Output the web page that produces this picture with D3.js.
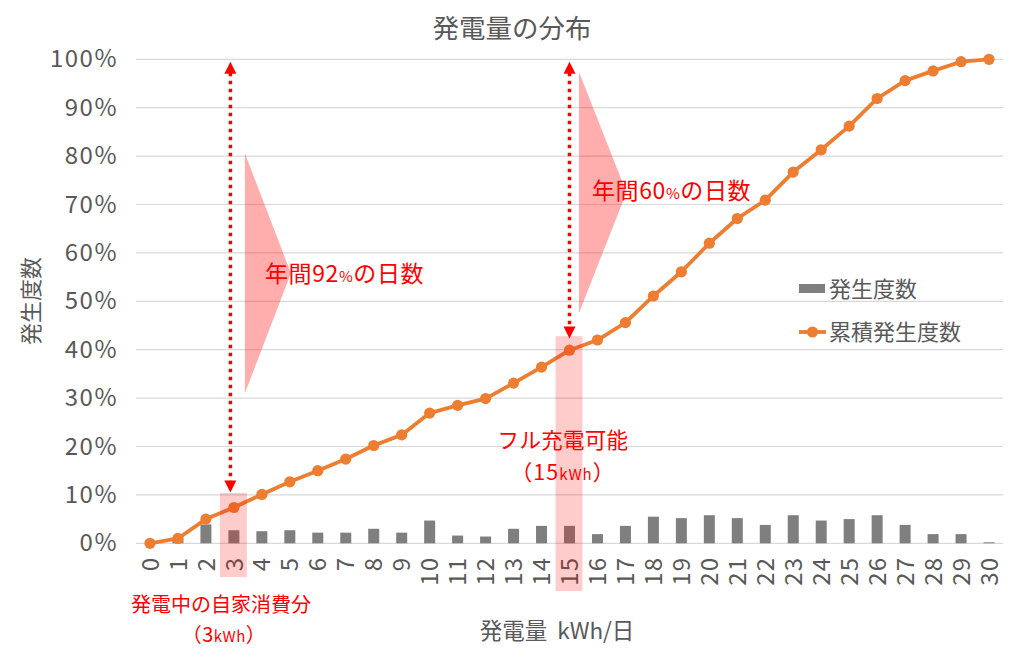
<!DOCTYPE html>
<html><head><meta charset="utf-8">
<script src="https://cdn.jsdelivr.net/npm/d3@7"></script>
<style>
html,body{margin:0;padding:0;background:#fff;}
text{font-family:"Noto Sans CJK JP","Noto Sans",sans-serif;}
</style></head>
<body><svg id="c" width="1024" height="669"></svg>
<script>
const categories = ["0","1","2","3","4","5","6","7","8","9","10","11","12","13","14","15","16","17","18","19","20","21","22","23","24","25","26","27","28","29","30"];
const frequency = [0.000,0.010,0.039,0.027,0.025,0.027,0.022,0.022,0.030,0.022,0.047,0.016,0.014,0.030,0.036,0.036,0.019,0.036,0.055,0.052,0.058,0.052,0.038,0.058,0.047,0.050,0.058,0.038,0.019,0.019,0.002];
const cumulative = [0.000,0.010,0.050,0.074,0.101,0.127,0.150,0.174,0.202,0.224,0.269,0.285,0.299,0.331,0.364,0.399,0.420,0.456,0.511,0.561,0.620,0.671,0.709,0.767,0.813,0.862,0.919,0.956,0.976,0.995,1.000];
const yTicks = [0,0.1,0.2,0.3,0.4,0.5,0.6,0.7,0.8,0.9,1.0];
const seriesNames = ["発生度数","累積発生度数"];

(function(){
const svg = d3.select("#c");
const pLeft = 136, pRight = 1003, pTop = 59.3, pBottom = 543.3;
const x = d3.scaleBand().domain(categories).range([pLeft, pRight]).padding(0);
const y = d3.scaleLinear().domain([0,1]).range([pBottom, pTop]);
const cx = c => x(String(c)) + x.bandwidth()/2;
const grey = "#595959", red = "#FF0000", orange = "#ED7D31";

// gridlines
svg.append("g").selectAll("line").data(yTicks).join("line")
  .attr("x1", pLeft).attr("x2", pRight)
  .attr("y1", d => y(d)).attr("y2", d => y(d))
  .attr("stroke", "#D9D9D9").attr("stroke-width", 1.2);

// y axis labels
const yAxis = d3.axisLeft(y).tickValues(yTicks).tickFormat(d3.format(".0%")).tickSize(0).tickPadding(0);
const gy = svg.append("g").attr("transform", `translate(118,0)`).call(yAxis);
gy.select(".domain").remove();
gy.selectAll("text").attr("fill", grey).attr("font-size", 24).attr("letter-spacing", 1.5)
  .attr("font-family", "'Noto Sans CJK JP', sans-serif");

// x axis labels (rotated)
const xAxis = d3.axisBottom(x).tickSize(0).tickPadding(0);
const gx = svg.append("g").call(xAxis);
gx.select(".domain").remove();
gx.selectAll(".tick").attr("transform", d => `translate(${cx(d)},557)`);
gx.selectAll("text").attr("transform", "rotate(-90)").attr("text-anchor", "end")
  .attr("x", 0).attr("y", 0).attr("dy", "0.36em").attr("letter-spacing", 1)
  .attr("fill", grey).attr("font-size", 24).attr("font-family", "'Noto Sans CJK JP', sans-serif");

// bars
const bw = 11;
svg.append("g").selectAll("rect").data(frequency).join("rect")
  .attr("x", (d,i) => cx(categories[i]) - bw/2)
  .attr("width", bw)
  .attr("y", d => y(d))
  .attr("height", d => pBottom - y(d))
  .attr("fill", "#7F7F7F");

// pink triangles
const tri = [
  [[cx(3)+11, y(0.806)], [cx(3)+11, y(0.310)], [cx(3)+57, y(0.558)]],
  [[cx(15)+9.5, y(0.974)], [cx(15)+9.5, y(0.476)], [cx(15)+57, y(0.725)]]
];
svg.append("g").selectAll("path").data(tri).join("path")
  .attr("d", d => "M" + d.map(p => p.join(",")).join("L") + "Z")
  .attr("fill", red).attr("fill-opacity", 0.32);

// cumulative line
const line = d3.line().x((d,i) => cx(categories[i])).y(d => y(d));
svg.append("path").datum(cumulative).attr("d", line)
  .attr("fill", "none").attr("stroke", orange).attr("stroke-width", 3.8).attr("stroke-linejoin", "round");
svg.append("g").selectAll("circle").data(cumulative).join("circle")
  .attr("cx", (d,i) => cx(categories[i])).attr("cy", d => y(d)).attr("r", 5.6).attr("fill", orange);

// highlight rectangles
svg.append("rect").attr("x", x("3")).attr("width", x.bandwidth()-1)
  .attr("y", y(0.104)).attr("height", 577 - y(0.104)).attr("fill", red).attr("fill-opacity", 0.2);
svg.append("rect").attr("x", x("15")).attr("width", x.bandwidth()-1)
  .attr("y", y(0.428)).attr("height", 591 - y(0.428)).attr("fill", red).attr("fill-opacity", 0.2);

// dotted arrows
function arrow(xp, y1, y2) {
  const g = svg.append("g");
  g.append("line").attr("x1", xp).attr("x2", xp).attr("y1", y1 + 11).attr("y2", y2 - 11)
    .attr("stroke", red).attr("stroke-width", 3.5).attr("stroke-dasharray", "3.5,4.5");
  g.append("path").attr("d", `M${xp},${y1}L${xp-6},${y1+12}L${xp+6},${y1+12}Z`).attr("fill", red);
  g.append("path").attr("d", `M${xp},${y2}L${xp-6},${y2-12}L${xp+6},${y2-12}Z`).attr("fill", red);
}
arrow(cx(3) - 3.5, y(0.995), y(0.105));
arrow(cx(15), y(0.995), y(0.423));

// annotation texts
function richText(xp, yp, parts, anchor, size, ls) {
  const t = svg.append("text").attr("x", xp).attr("y", yp).attr("fill", red)
    .attr("font-size", size).attr("text-anchor", anchor || "start");
  if (ls) t.attr("letter-spacing", ls);
  parts.forEach(p => t.append("tspan").attr("font-size", p[1] || size).text(p[0]));
  return t;
}
richText(265, 282, [["年間92"],["%",15],["の日数"]], "start", 23, 0.6);
richText(592, 199, [["年間60"],["%",15],["の日数"]], "start", 23, 0.6);
richText(563, 448, [["フル充電可能"]], "middle", 21.5, 0.3);
richText(563, 480, [["（15"],["kWh",15],["）"]], "middle", 21.5, 1);
richText(221, 612, [["発電中の自家消費分"]], "middle", 20);
richText(224, 642, [["（3"],["kWh",15],["）"]], "middle", 20, 0.5);

// title & axis titles
svg.append("text").attr("x", 512).attr("y", 38).attr("text-anchor", "middle")
  .attr("font-size", 26.5).attr("fill", grey).text("発電量の分布");
svg.append("text").attr("transform", "translate(39,301) rotate(-90)").attr("text-anchor", "middle")
  .attr("font-size", 22).attr("fill", grey).text("発生度数");
svg.append("text").attr("x", 557).attr("y", 639).attr("text-anchor", "middle")
  .attr("font-size", 22.5).attr("fill", grey).attr("xml:space", "preserve").text("発電量  kWh/日");

// legend
const lg = svg.append("g");
lg.append("rect").attr("x", 799).attr("y", 284).attr("width", 26).attr("height", 9).attr("fill", "#7F7F7F");
lg.append("text").attr("x", 829).attr("y", 297).attr("font-size", 22).attr("fill", grey).text(seriesNames[0]);
lg.append("line").attr("x1", 799).attr("x2", 826).attr("y1", 332).attr("y2", 332)
  .attr("stroke", orange).attr("stroke-width", 3.8);
lg.append("circle").attr("cx", 812.5).attr("cy", 332).attr("r", 5.6).attr("fill", orange);
lg.append("text").attr("x", 829).attr("y", 340).attr("font-size", 22).attr("fill", grey).text(seriesNames[1]);
})();
</script></body></html>
